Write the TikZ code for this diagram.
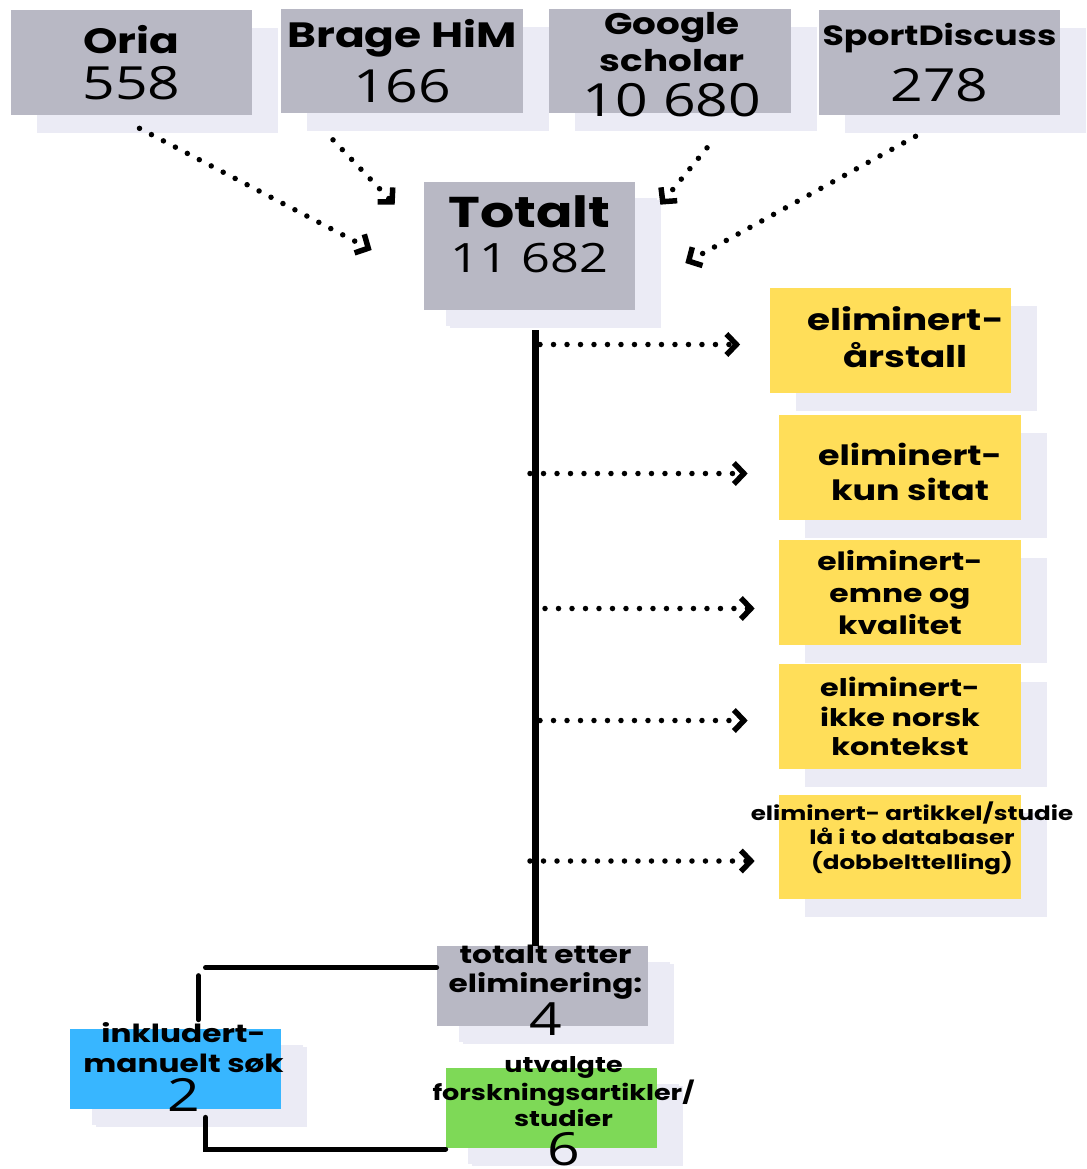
\documentclass[tikz,border=0pt]{standalone}
\usepackage{fontspec}
\setmainfont{Open Sans}
\newfontfamily\headfont{Poppins}[FakeStretch=1.25]
\newfontfamily\numfont{Open Sans}[FakeStretch=1.25]
\usetikzlibrary{
  arrows.meta,
  calc,
  positioning,
  shadows,
}
\definecolor{boxgray}{HTML}{B8B8C4}
\definecolor{shadowgray}{HTML}{EBEBF5}
\definecolor{elimyellow}{HTML}{FFDE59}
\definecolor{manblue}{HTML}{38B6FF}
\definecolor{selgreen}{HTML}{7ED957}
\newcommand{\tally}[2][26]{{\numfont\mdseries\fontsize{#1}{#1}\selectfont #2}}
\tikzset{
  card/.style={rectangle, inner sep=0pt, align=center,
    minimum width=4.84cm, minimum height=2.1cm,
    drop shadow={shadow xshift=0.52cm, shadow yshift=-0.36cm,
      fill=shadowgray, opacity=1}},
  smallcard/.style={card, minimum width=4.22cm, minimum height=1.6cm,
    drop shadow={shadow xshift=0.44cm, shadow yshift=-0.32cm,
      fill=shadowgray, opacity=1}},
  source/.style={card, fill=boxgray},
  elim/.style={card, fill=elimyellow},
  head/.style 2 args={font={\headfont\bfseries\fontsize{#1}{#2}\selectfont}},
  caption/.style={align=center, inner sep=0pt},
  dotarrow/.style={line width=0.11cm, line cap=round,
    dash pattern=on 0pt off 0.27cm,
    -{Straight Barb[length=0.2cm, width=0.42cm]}},
  trunk/.style={line width=0.14cm},
  link/.style={line width=0.1cm, line cap=round},
}

\begin{document}
\begin{tikzpicture}[x=0.02cm, y=-0.02cm]
  \useasboundingbox (0,0) rectangle (1086,1169);

  % databases
  \node[source, head={20}{26}] (oria) at (131.5,62.5) {Oria\\\tally{558}};
  \node[source, head={20}{31}] (brage) at (402,61) {Brage HiM\\\tally{166}};
  \node[source] (google) at (670,61) {};
  \node[caption, head={17}{21}] (google-t) at ($(google)+(2,4)$)
    {Google\\scholar\\[4.5pt]\tally{10 680}};
  \node[source, head={15.8}{32}] (sport) at (939.5,62.5) {SportDiscuss\\\tally{278}};

  % total
  \node[card, fill=boxgray, minimum width=4.22cm, minimum height=2.56cm,
    drop shadow={shadow xshift=0.44cm, shadow yshift=-0.32cm,
      fill=shadowgray, opacity=1}] (total) at (529.5,246) {};
  \node[caption, head={24.5}{25.5}] (total-t) at ($(total)+(0,-12)$)
    {Totalt\\\tally[23]{11 682}};

  \draw[dotarrow] ($(oria.south)+(8,13)$) -- ($(total.west)+(-52,4)$);
  \draw[dotarrow] ($(brage.south)+(-69,26)$) -- ($(total.north west)+(-29,23)$);
  \draw[dotarrow] ($(google.south)+(37,34)$) -- ($(total.north east)+(25,23)$);
  \draw[dotarrow] ($(sport.south)+(-24,21)$) -- ($(total.east)+(50,17)$);

  % eliminations
  \node[elim] (el1) at (890.5,340.5) {};
  \node[caption, head={17}{21}] (el1-t) at ($(el1)+(15,-3)$) {eliminert-\\årstall};
  \node[elim] (el2) at (900,467.5) {};
  \node[caption, head={15.9}{20}] (el2-t) at ($(el2)+(10,4)$) {eliminert-\\kun sitat};
  \node[elim, head={14.3}{18}] (el3) at (900,592.5) {eliminert-\\emne og\\kvalitet};
  \node[elim, head={13.8}{17}] (el4) at (900,716.5) {eliminert-\\ikke norsk\\kontekst};
  \node[elim, minimum height=2.08cm] (el5) at (900,847) {};
  \node[caption, head={11.2}{14}] (el5-t) at ($(el5)+(12,-9)$)
    {eliminert- artikkel/studie\\lå i to databaser\\(dobbelttelling)};

  % after elimination
  \node[smallcard, fill=boxgray] (after) at (542.5,986) {};
  \node[caption, head={14.2}{16.5}] (after-t) at ($(after)+(3,4)$)
    {totalt etter\\eliminering:\\[1pt]\tally{4}};
  \node[smallcard, fill=manblue] (manual) at (175.5,1069) {};
  \node[caption, head={14.2}{17}] (manual-t) at ($(manual)+(8,-2)$)
    {inkludert-\\manuelt søk\\[2pt]\tally{2}};
  \node[smallcard, fill=selgreen] (chosen) at (551.5,1108) {};
  \node[caption, head={12.3}{15}] (chosen-t) at ($(chosen)+(12,3)$)
    {utvalgte\\forskningsartikler/\\studier\\[2pt]\tally{6}};

  \coordinate (spine) at ($(total.south)+(5.5,20)$);
  \draw[trunk] (spine) -- (spine |- after.north);
  \foreach \n/\dx/\dy/\gap in {el1/5/4/29, el2/-5/6/31, el3/10/16/24,
                               el4/5/4/31, el5/-5/14/24}
  {
    \draw[dotarrow] ($(spine |- \n.west)+(\dx,\dy)$) -- ($(\n.west)+(-\gap,\dy)$);
  }

  \draw[link] ($(after.north west)+(0,22)$) -- ($(manual.north)+(30,-61)$);
  \draw[link] ($(manual.north)+(23,-53)$) -- ($(manual.north)+(23,-9)$);
  \draw[link] ($(manual.south)+(30,8)$) |- ($(chosen.west)+(0,41)$);
\end{tikzpicture}
\end{document}
